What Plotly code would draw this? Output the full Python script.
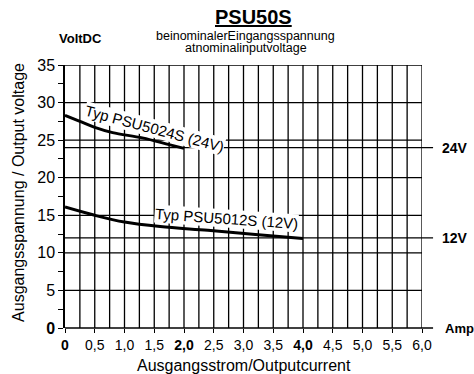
import plotly.graph_objects as go

# data
current_24 = [0.0, 0.25, 0.5, 0.8, 1.3, 1.75, 2.0]
volt_24 = [28.3, 27.5, 26.7, 26.0, 25.3, 24.4, 23.9]
current_12 = [0.0, 0.5, 1.0, 1.6, 2.4, 3.2, 4.0]
volt_12 = [16.1, 15.0, 14.1, 13.5, 13.0, 12.45, 11.9]
x_ticks = [0, 0.5, 1.0, 1.5, 2.0, 2.5, 3.0, 3.5, 4.0, 4.5, 5.0, 5.5, 6.0]
x_labels = ["<b>0</b>", "0,5", "1,0", "1,5", "<b>2,0</b>", "2,5", "3,0", "3,5",
            "<b>4,0</b>", "4,5", "5,0", "5,5", "6,0"]
x_grid = [0.25 * i for i in range(1, 25)]
y_ticks = [0, 2.5, 5, 7.5, 10, 12.5, 15, 17.5, 20, 22.5, 25, 27.5, 30, 32.5, 35]
y_labels = ["<b>0</b>", "", "5", "", "10", "", "15", "", "20", "", "25", "", "30", "", "35"]
y_grid = [5, 10, 15, 20, 25, 30, 35]
nominal_levels = [24, 12]
nominal_labels = ["24V", "12V"]
Y_MAX = 35

FONT = "Liberation Sans, Arial, sans-serif"

fig = go.Figure()
for v in x_grid:
    fig.add_vline(x=v, line=dict(color="black", width=1.3), layer="below")
for v in y_grid:
    fig.add_hline(y=v, line=dict(color="black", width=1.3), layer="below")

fig.add_trace(go.Scatter(x=current_24, y=volt_24, mode="lines", hoverinfo="skip",
                         line=dict(color="black", width=3, shape="spline")))
fig.add_trace(go.Scatter(x=current_12, y=volt_12, mode="lines", hoverinfo="skip",
                         line=dict(color="black", width=3, shape="spline")))

for lvl in nominal_levels:
    fig.add_shape(type="line", xref="paper", yref="paper",
                  x0=0, x1=1.031, y0=lvl / Y_MAX, y1=lvl / Y_MAX,
                  line=dict(color="black", width=1.3))
# x-axis line extension
fig.add_shape(type="line", xref="paper", yref="paper", x0=0, x1=1.031,
              y0=0, y1=0, line=dict(color="black", width=1.5))

annotations = []
for lvl, lab in zip(nominal_levels, nominal_labels):
    annotations.append(dict(xref="paper", yref="paper", x=1.05, y=lvl / Y_MAX,
                            text=f"<b>{lab}</b>", showarrow=False, xanchor="left",
                            yanchor="middle",
                            font=dict(size=14, color="black", family=FONT)))
annotations += [
    dict(xref="paper", yref="paper", x=1.06, y=0, text="<b>Amp</b>", showarrow=False,
         xanchor="left", yanchor="middle", font=dict(size=13, color="black", family=FONT)),
    dict(xref="paper", yref="paper", x=0.527, y=1.0, yshift=48, yanchor="middle",
         text="<b><u>PSU50S</u></b>",
         showarrow=False, font=dict(size=20, color="black", family=FONT)),
    dict(xref="paper", yref="paper", x=0.506, y=1.0, yshift=29, yanchor="middle",
         text="beinominalerEingangsspannung",
         showarrow=False, font=dict(size=12.5, color="black", family=FONT)),
    dict(xref="paper", yref="paper", x=0.506, y=1.0, yshift=17, yanchor="middle",
         text="atnominalinputvoltage",
         showarrow=False, font=dict(size=12.5, color="black", family=FONT)),
    dict(xref="paper", yref="paper", x=-0.022, y=1.0, yshift=27, yanchor="middle",
         text="<b>VoltDC</b>",
         showarrow=False, font=dict(size=13, color="black", family=FONT)),
    dict(x=0, y=36.8, ax=0, ay=16, text="", showarrow=True, arrowhead=2,
         arrowsize=1, arrowwidth=1.5, arrowcolor="black"),
    dict(x=1.5, y=26.6, text="Typ PSU5024S (24V)", showarrow=False, textangle=15,
         bgcolor="white", borderpad=0,
         font=dict(size=15, color="black", family=FONT)),
    dict(x=2.71, y=14.6, text="Typ PSU5012S (12V)", showarrow=False, textangle=4,
         bgcolor="white", borderpad=0,
         font=dict(size=15, color="black", family=FONT)),
    dict(xref="paper", yref="paper", x=0.501, y=0, yshift=-37, yanchor="middle",
         text="Ausgangsstrom/Outputcurrent", showarrow=False,
         font=dict(size=16, color="black", family=FONT)),
    dict(xref="paper", yref="paper", x=-0.132, y=0.517, textangle=-90,
         xanchor="center", yanchor="middle",
         text="Ausgangsspannung / Output voltage", showarrow=False,
         font=dict(size=16, color="black", family=FONT)),
]

fig.update_layout(
    width=474, height=374,
    margin=dict(l=65, r=52, t=65, b=46),
    paper_bgcolor="white", plot_bgcolor="white",
    showlegend=False, hovermode=False,
    annotations=annotations,
    font=dict(family=FONT, color="black"),
    xaxis=dict(range=[0, 6], tickvals=x_ticks, ticktext=x_labels, automargin=False,
               showgrid=False, ticks="outside", ticklen=4, tickcolor="black", tickwidth=1.3,
               showline=False, zeroline=False,
               tickfont=dict(size=14, color="black")),
    yaxis=dict(range=[0, Y_MAX], tickvals=y_ticks, ticktext=y_labels, automargin=False,
               showgrid=False, ticks="outside", ticklen=5, tickcolor="black", tickwidth=1.3,
               showline=True, linecolor="black", linewidth=1.5, zeroline=False,
               tickfont=dict(size=16, color="black")),
)

fig.write_html("out.html", config={"displayModeBar": False},
               post_script="document.body.style.margin='0';document.body.style.overflow='hidden';")
